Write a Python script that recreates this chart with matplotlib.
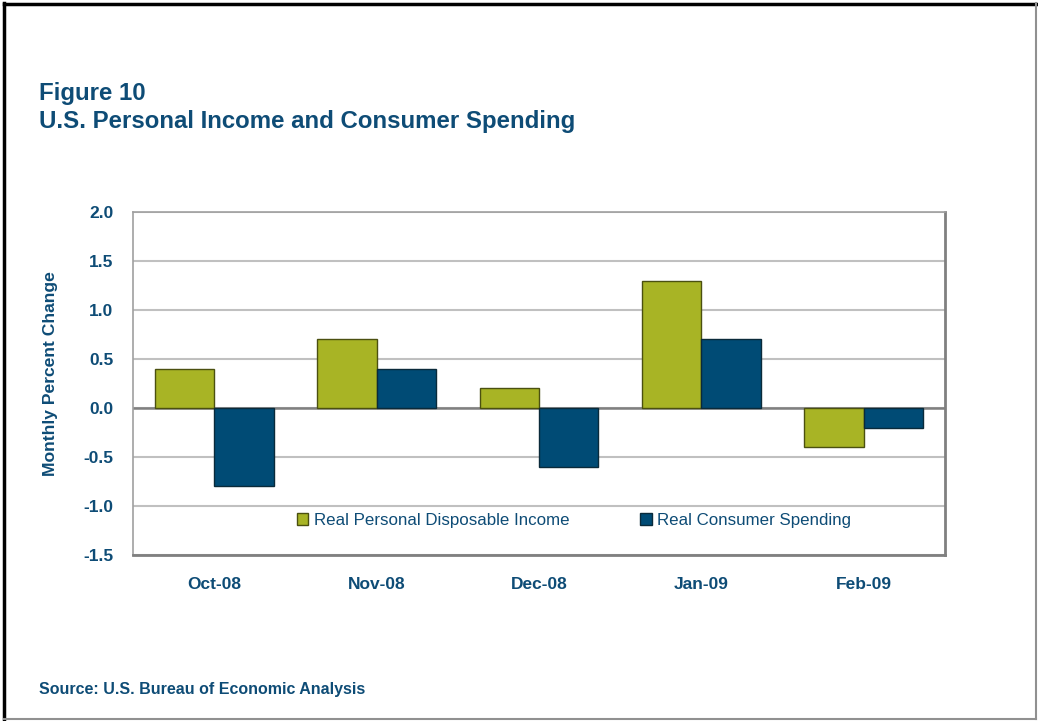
import matplotlib.pyplot as plt
import numpy as np

months = ["Oct-08", "Nov-08", "Dec-08", "Jan-09", "Feb-09"]
income = [0.4, 0.7, 0.2, 1.3, -0.4]
spending = [-0.8, 0.4, -0.6, 0.7, -0.2]
yticks = [-1.5, -1.0, -0.5, 0.0, 0.5, 1.0, 1.5, 2.0]

navy = "#0E4C76"
green = "#A8B425"
blue = "#004B75"

plt.rcParams["font.family"] = ["Liberation Sans", "DejaVu Sans"]

fig = plt.figure(figsize=(10.38, 7.21), dpi=100)

# page frame: dark top/left, gray bottom/right
fig.add_artist(plt.Line2D([0.004, 0.004], [0.003, 0.996], color="black", lw=2.5, transform=fig.transFigure))
fig.add_artist(plt.Line2D([0.004, 0.998], [0.995, 0.995], color="black", lw=2.5, transform=fig.transFigure))
fig.add_artist(plt.Line2D([0.998, 0.998], [0.003, 0.996], color="#909090", lw=1.5, transform=fig.transFigure))
fig.add_artist(plt.Line2D([0.004, 0.998], [0.003, 0.003], color="#909090", lw=1.5, transform=fig.transFigure))

fig.text(0.038, 0.871, "Figure 10", fontsize=17.3, fontweight="bold", color=navy, va="center")
fig.text(0.038, 0.832, "U.S. Personal Income and Consumer Spending", fontsize=17.3,
         fontweight="bold", color=navy, va="center")
fig.text(0.038, 0.043, "Source: U.S. Bureau of Economic Analysis", fontsize=11.5,
         fontweight="bold", color=navy, va="center")

ax = fig.add_axes([0.1281, 0.2302, 0.7823, 0.4757])

x = np.arange(len(months))
w = 0.366
ax.bar(x - w / 2, income, w, color=green, edgecolor="#4B5010", lw=1.0,
       label="Real Personal Disposable Income", zorder=3)
ax.bar(x + w / 2, spending, w, color=blue, edgecolor="#0A2A3A", lw=1.0,
       label="Real Consumer Spending", zorder=3)

ax.set_xlim(-0.5, len(months) - 0.5)
ax.set_ylim(-1.5, 2.0)
ax.set_yticks(yticks)
ax.set_yticklabels([f"{v:.1f}" for v in yticks])
ax.yaxis.grid(True, color="#C0C0C0", lw=1.5, zorder=0)
ax.axhline(0, color="#808080", lw=1.8, zorder=2)
ax.tick_params(length=0, pad=14)
ax.set_xticks(x)
ax.set_xticklabels(months)
ax.tick_params(axis="x", pad=16)
for lab in ax.get_xticklabels() + ax.get_yticklabels():
    lab.set_fontweight("bold")
    lab.set_fontsize(12.5)
    lab.set_color(navy)

for side in ["left", "top"]:
    ax.spines[side].set_color("#A0A0A0")
    ax.spines[side].set_linewidth(1.2)
for side in ["right", "bottom"]:
    ax.spines[side].set_color("#808080")
    ax.spines[side].set_linewidth(2)

ax.set_ylabel("Monthly Percent Change", fontsize=12.6, fontweight="bold", color=navy)
ax.yaxis.set_label_coords(-0.092, 0.53)

leg = ax.legend(ncol=2, frameon=False, loc="center", bbox_to_anchor=(0.543, 0.102),
                handlelength=0.7, handleheight=0.7, handletextpad=0.3, columnspacing=4.2,
                prop={"size": 12.2})
for t in leg.get_texts():
    t.set_color(navy)

fig.savefig("out.png", dpi=100)
